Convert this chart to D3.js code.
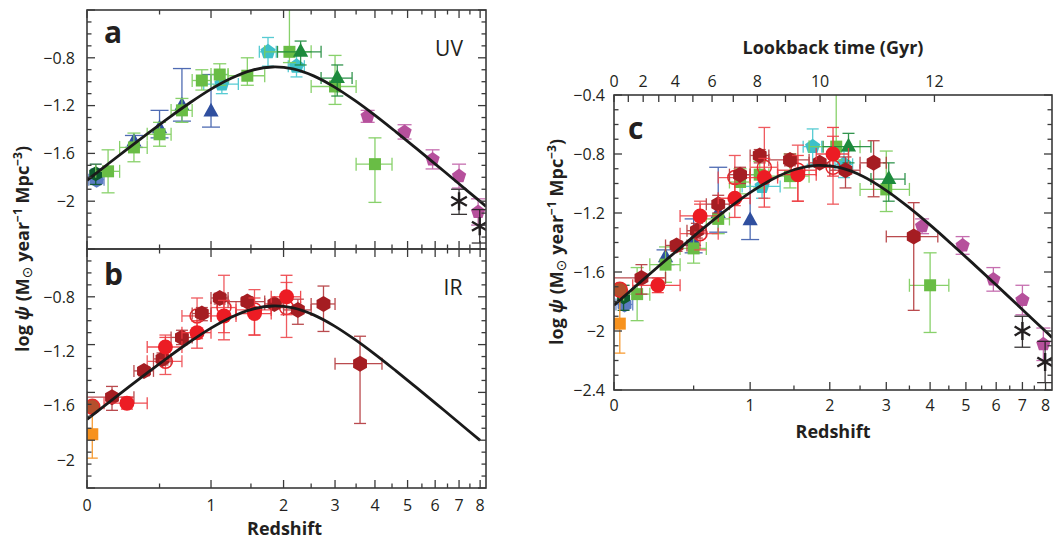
<!DOCTYPE html>
<html><head><meta charset="utf-8">
<script src="https://cdn.jsdelivr.net/npm/d3@7"></script>
<style>
body{margin:0;background:#fff}
text{font-family:"Open Sans","Noto Sans",sans-serif;fill:#231f20}
</style>
</head><body>
<svg id="chart" width="1059" height="539"></svg>
<script>
// ---------------- DATA ----------------
// rows: [z, zMin, zMax, log psi, +err, -err]   (null = no horizontal bar)
// UV surveys
const schiminovich05 = [[0.3,null,null,-1.50,0.05,0.05],[0.5,null,null,-1.39,0.15,0.08],[0.7,null,null,-1.20,0.31,0.13],[1.0,null,null,-1.25,0.31,0.13]];
const wyder05 = [[0.055,0.01,0.1,-1.82,0.09,0.02]];
const robotham11 = [[0.05,null,null,-1.77,0.08,0.09]];
const dahlen07 = [[1.125,0.92,1.33,-1.02,0.08,0.08],[1.75,1.62,1.88,-0.75,0.12,0.12],[2.225,2.08,2.37,-0.87,0.09,0.09]];
const cucciati12 = [[0.125,0.05,0.2,-1.75,0.18,0.18],[0.3,0.2,0.4,-1.55,0.12,0.12],[0.5,0.4,0.6,-1.44,0.10,0.10],[0.7,0.6,0.8,-1.24,0.10,0.10],[0.9,0.8,1.0,-0.99,0.09,0.08],[1.1,1.0,1.2,-0.94,0.09,0.09],[1.45,1.2,1.7,-0.95,0.15,0.08],[2.1,1.7,2.5,-0.75,0.49,0.09],[3.0,2.5,3.5,-1.04,0.26,0.15],[4.0,3.5,4.5,-1.69,0.22,0.32]];
const reddy09 = [[2.3,1.9,2.7,-0.75,0.09,0.11],[3.05,2.7,3.4,-0.97,0.11,0.15]];
const bouwens12 = [[3.8,null,null,-1.29,0.05,0.05],[4.9,null,null,-1.42,0.06,0.06],[5.9,null,null,-1.65,0.08,0.08],[7.0,null,null,-1.79,0.10,0.10],[7.9,null,null,-2.09,0.11,0.11]];
const schenker13 = [[7.0,null,null,-2.00,0.10,0.11],[7.98,null,null,-2.21,0.14,0.14]];
// IR surveys
const takeuchi05 = [[0.03,null,null,-1.95,0.20,0.20]];
const sanders03 = [[0.03,null,null,-1.72,0.02,0.03]];
const magnelli11 = [[0.55,0.4,0.7,-1.34,0.22,0.11],[0.85,0.7,1.0,-0.96,0.15,0.19],[1.15,1.0,1.3,-0.89,0.27,0.21],[1.55,1.3,1.8,-0.91,0.17,0.21],[2.05,1.8,2.3,-0.89,0.21,0.25]];
const gruppioni13 = [[0.15,0.0,0.3,-1.64,0.09,0.11],[0.375,0.3,0.45,-1.42,0.03,0.04],[0.525,0.45,0.6,-1.32,0.05,0.05],[0.7,0.6,0.8,-1.14,0.06,0.06],[0.9,0.8,1.0,-0.94,0.05,0.06],[1.1,1.0,1.2,-0.81,0.04,0.05],[1.45,1.2,1.7,-0.84,0.04,0.04],[1.85,1.7,2.0,-0.86,0.02,0.03],[2.25,2.0,2.5,-0.91,0.09,0.12],[2.75,2.5,3.0,-0.86,0.15,0.23],[3.6,3.0,4.2,-1.36,0.23,0.50]];
const magnelli13 = [[0.25,0.1,0.4,-1.69,0.05,0.05],[0.55,0.4,0.7,-1.22,0.08,0.11],[0.85,0.7,1.0,-1.10,0.10,0.13],[1.15,1.0,1.3,-0.96,0.13,0.20],[1.55,1.3,1.8,-0.94,0.13,0.18],[2.05,1.8,2.3,-0.80,0.18,0.15]];
// best-fit curve
const fitZ   = [0, 0.122, 0.259, 0.413, 0.585, 0.778, 0.995, 1.239, 1.512, 1.818, 2.162, 2.548, 2.981, 3.467, 4.012, 4.623, 5.310, 6.079, 6.943, 8.0, 8.3];
const fitPsi = [-1.825,-1.691,-1.558,-1.427,-1.298,-1.176,-1.064,-0.971,-0.905,-0.877,-0.893,-0.951,-1.043,-1.157,-1.284,-1.420,-1.560,-1.702,-1.846,-2.002,-2.044];
// axis ticks
const zTickLabels = [0,1,2,3,4,5,6,7,8];
const zMinorTicks = [0.5,1.5,2.5,3.5,4.5,5.5,6.5,7.5];
const psiTicksAB = [-2,-1.6,-1.2,-0.8];
const psiTicksC = [-2.4,-2,-1.6,-1.2,-0.8,-0.4];
const lookbackTicks = [0,1,2,3,4,5,6,7,8,9,10,11,12];
const lookbackLabels = [0,2,4,6,8,10,12];

// ---------------- STYLE TABLE ----------------
const uvSets = [
  {rows:schiminovich05, shape:"triangle", fill:"#2f4f9f", bar:"#3c5cab", cap:18, r:8},
  {rows:wyder05, shape:"hexagon", fill:"#5b7cc2", bar:"#5b7cc2", cap:12, r:8},
  {rows:robotham11, shape:"hexagon", fill:"#0d5a2d", bar:"#0d5a2d", cap:12, r:7.5},
  {rows:dahlen07, shape:"pentagon", fill:"#3ec0ca", bar:"#45c6cf", cap:12, r:8},
  {rows:cucciati12, shape:"square", fill:"#69bd45", bar:"#7ccd5b", cap:13, r:6},
  {rows:reddy09, shape:"triangle", fill:"#1d8a3c", bar:"#1d8a3c", cap:12, r:8},
  {rows:bouwens12, shape:"pentagon", fill:"#b6509c", bar:"#c060a8", cap:14, r:7.5},
  {rows:schenker13, shape:"asterisk", fill:"#231f20", bar:"#231f20", cap:16, r:9}
];
const irSets = [
  {rows:takeuchi05, shape:"square", fill:"#f7921e", bar:"#f7921e", cap:11, r:6},
  {rows:sanders03, shape:"circle", fill:"#b4502c", stroke:"#e52a2a", bar:"#e52a2a", cap:12, r:7.5},
  {rows:magnelli11, shape:"circle", open:true, fill:"none", stroke:"#e8262c", bar:"#ee4a4f", cap:12, r:7},
  {rows:gruppioni13, shape:"hexagon", fill:"#a51d22", bar:"#b3373b", cap:12, r:8},
  {rows:magnelli13, shape:"circle", fill:"#ec1c24", bar:"#ee3a40", cap:12, r:7.5}
];

// ---------------- HELPERS ----------------
const svg = d3.select("#chart");
const zMax = Math.pow(10, 0.9685) - 1;
const layout = {
  a:{x0:87, x1:486, y0:10, y1:249},
  b:{x0:87, x1:486, y0:249, y1:488},
  c:{x0:614, x1:1052, y0:95, y1:390}
};
const fmt = v => (v < 0 ? "\u2212" : "") + Math.abs(+v.toFixed(1));

function shapePath(shape, r){
  const p = d3.path();
  if (shape === "circle"){ p.arc(0,0,r,0,2*Math.PI); p.closePath(); }
  else if (shape === "square"){ p.rect(-r,-r,2*r,2*r); }
  else if (shape === "triangle"){ p.moveTo(0,-r*1.1); p.lineTo(r*0.95,r*0.62); p.lineTo(-r*0.95,r*0.62); p.closePath(); }
  else if (shape === "hexagon" || shape === "pentagon"){
    const n = shape === "hexagon" ? 6 : 5;
    for (let i=0;i<n;i++){ const a=-Math.PI/2+i*2*Math.PI/n; const px=r*Math.cos(a), py=r*Math.sin(a); if(i===0)p.moveTo(px,py); else p.lineTo(px,py);} p.closePath();
  } else if (shape === "asterisk"){
    for (let i=0;i<3;i++){ const a=Math.PI/2+i*Math.PI/3; p.moveTo(r*Math.cos(a),r*Math.sin(a)); p.lineTo(-r*Math.cos(a),-r*Math.sin(a)); }
  }
  return p.toString();
}

function lookbackGyr(z){
  const n=400; let s=0;
  for (let i=0;i<n;i++){ const zz=(i+0.5)*z/n; s += 1/((1+zz)*Math.sqrt(0.3*Math.pow(1+zz,3)+0.7)); }
  return 977.8/70 * s * z/n;
}
function zFromLookback(t){
  let lo=0, hi=30;
  for (let k=0;k<60;k++){ const m=(lo+hi)/2; if (lookbackGyr(m)<t) lo=m; else hi=m; }
  return (lo+hi)/2;
}

function makePanel(key, sets, opts){
  const L = layout[key];
  const xs = d3.scaleLog().domain([1, 1+zMax]).range([L.x0, L.x1]);
  const X = z => xs(1+z);
  const Y = d3.scaleLinear().domain([-2.4,-0.4]).range([L.y1, L.y0]);
  // label placement scale (panel b of the original has its labels spread slightly)
  const YL = opts.labelRange ? d3.scaleLinear().domain([-2.4,-0.4]).range(opts.labelRange) : Y;
  const g = svg.append("g");
  const clipId = "clip-"+key;
  svg.append("defs").append("clipPath").attr("id",clipId).append("rect")
    .attr("x",L.x0).attr("y",L.y0).attr("width",L.x1-L.x0).attr("height",L.y1-L.y0);
  const plot = g.append("g").attr("clip-path","url(#"+clipId+")");

  sets.forEach(ds => {
    const eb = plot.append("g").attr("stroke",ds.bar).attr("stroke-width",1.3).attr("fill","none").attr("opacity",0.9);
    ds.rows.forEach(d => {
      const [z,zl,zh,v,ep,em] = d;
      const cx=X(z), cy=Y(v), yt=Y(v+ep), yb=Y(v-em), c=ds.cap/2;
      eb.append("line").attr("x1",cx).attr("x2",cx).attr("y1",yt).attr("y2",yb);
      eb.append("line").attr("x1",cx-c).attr("x2",cx+c).attr("y1",yt).attr("y2",yt);
      eb.append("line").attr("x1",cx-c).attr("x2",cx+c).attr("y1",yb).attr("y2",yb);
      if (zl !== null){
        const xl=X(zl), xh=X(zh);
        eb.append("line").attr("x1",xl).attr("x2",xh).attr("y1",cy).attr("y2",cy);
        eb.append("line").attr("x1",xl).attr("x2",xl).attr("y1",cy-c).attr("y2",cy+c);
        eb.append("line").attr("x1",xh).attr("x2",xh).attr("y1",cy-c).attr("y2",cy+c);
      }
    });
    plot.append("g").selectAll("path").data(ds.rows).join("path")
      .attr("transform", d => `translate(${X(d[0])},${Y(d[3])})`)
      .attr("d", shapePath(ds.shape, ds.r))
      .attr("fill", ds.shape==="asterisk" ? "none" : ds.fill)
      .attr("stroke", ds.shape==="asterisk" ? ds.fill : (ds.stroke || "none"))
      .attr("stroke-width", ds.shape==="asterisk" ? 2.4 : 1.5);
  });

  const pts = fitZ.map((z,i)=>[z,fitPsi[i]]).filter(d => d[0] <= opts.curveMax);
  plot.append("path").datum(pts)
    .attr("d", d3.line().x(d=>X(d[0])).y(d=>Y(d[1])).curve(d3.curveCatmullRom))
    .attr("fill","none").attr("stroke","#1a1a1a").attr("stroke-width",2.8);

  g.append("rect").attr("x",L.x0).attr("y",L.y0).attr("width",L.x1-L.x0).attr("height",L.y1-L.y0)
    .attr("fill","none").attr("stroke","#3a3a3a").attr("stroke-width",1.6);
  const tk = g.append("g").attr("stroke","#3a3a3a").attr("stroke-width",1.3);
  const zt = zTickLabels.map(z=>[z,8]).concat(zMinorTicks.map(z=>[z,4.5]));
  zt.forEach(([z,len]) => {
    tk.append("line").attr("x1",X(z)).attr("x2",X(z)).attr("y1",L.y1).attr("y2",L.y1-len);
    if (!opts.lookback) tk.append("line").attr("x1",X(z)).attr("x2",X(z)).attr("y1",L.y0).attr("y2",L.y0+len);
  });
  d3.range(-24,-3).forEach(k => {
    const v=k/10, len = (k%4===0) ? 8 : 4.5;
    tk.append("line").attr("x1",L.x0).attr("x2",L.x0+len).attr("y1",Y(v)).attr("y2",Y(v));
    tk.append("line").attr("x1",L.x1).attr("x2",L.x1-len).attr("y1",Y(v)).attr("y2",Y(v));
  });
  g.append("g").selectAll("text").data(opts.yTicks).join("text")
    .attr("x",L.x0-opts.yLabelGap).attr("y",d=>YL(d)).attr("dy","0.36em")
    .attr("text-anchor","end").attr("font-size",16).text(fmt);
  if (opts.xLabels){
    g.append("g").selectAll("text").data(zTickLabels).join("text")
      .attr("x",d=>X(d)).attr("y",L.y1+opts.xLabelDy).attr("text-anchor","middle")
      .attr("font-size",16).text(d=>d);
    g.append("text").attr("x",(L.x0+L.x1)/2+opts.titleShift).attr("y",L.y1+opts.titleDy)
      .attr("text-anchor","middle").attr("font-weight","bold").attr("font-size",18).text("Redshift");
  }
  if (opts.lookback){
    lookbackTicks.forEach(t => {
      const xx = X(zFromLookback(t));
      tk.append("line").attr("x1",xx).attr("x2",xx).attr("y1",L.y0).attr("y2",L.y0+7);
    });
    g.append("g").selectAll("text").data(lookbackLabels).join("text")
      .attr("x",t=>X(zFromLookback(t))).attr("y",L.y0-8).attr("text-anchor","middle")
      .attr("font-size",16).text(t=>t);
    g.append("text").attr("x",(L.x0+L.x1)/2+opts.titleShift).attr("y",L.y0-41)
      .attr("text-anchor","middle").attr("font-weight","bold").attr("font-size",18).text("Lookback time (Gyr)");
  }
  g.append("text").attr("x",L.x0+opts.letterDx).attr("y",L.y0+opts.letterDy)
    .attr("font-weight","bold").attr("font-size",30).text(opts.letter);
  if (opts.band){
    g.append("text").attr("x",L.x1-opts.bandDx).attr("y",L.y0+46).attr("text-anchor","middle")
      .attr("font-size",21).text(opts.band);
  }
  return g;
}

function yTitle(x, y){
  const t = svg.append("text").attr("transform",`translate(${x},${y}) rotate(-90)`)
    .attr("text-anchor","middle").attr("font-weight","bold").attr("font-size",18);
  t.append("tspan").text("log ");
  t.append("tspan").attr("font-style","italic").text("\u03C8");
  t.append("tspan").text(" (M");
  t.append("tspan").attr("dy",3).attr("font-size",14).attr("font-weight","normal").attr("font-family","DejaVu Sans").text("\u2299");
  t.append("tspan").attr("dy",-3).text(" year");
  t.append("tspan").attr("dy",-7).attr("font-size",12).text("\u22121");
  t.append("tspan").attr("dy",7).text(" Mpc");
  t.append("tspan").attr("dy",-7).attr("font-size",12).text("\u22123");
  t.append("tspan").attr("dy",7).text(")");
}

makePanel("a", uvSets, {curveMax:9, yTicks:psiTicksAB, yLabelGap:12, xLabels:false, letter:"a", letterDx:17, letterDy:33, band:"UV", bandDx:37});
makePanel("b", irSets, {curveMax:8.01, yTicks:psiTicksAB, yLabelGap:12, labelRange:[514,243], xLabels:true, xLabelDy:23, titleDy:47, titleShift:-2, letter:"b", letterDx:17, letterDy:36, band:"IR", bandDx:33});
makePanel("c", uvSets.concat(irSets), {curveMax:9, yTicks:psiTicksC, yLabelGap:9, xLabels:true, xLabelDy:21, titleDy:48, titleShift:0, lookback:true, letter:"c", letterDx:14, letterDy:44});
yTitle(29, 249);
yTitle(563, 242);
</script>
</body></html>
